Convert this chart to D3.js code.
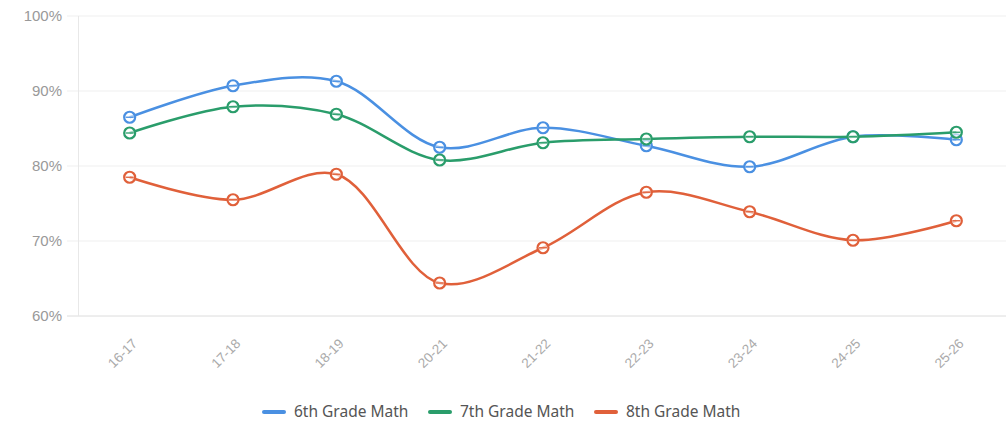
<!DOCTYPE html>
<html><head><meta charset="utf-8">
<script src="https://cdn.jsdelivr.net/npm/d3@7/dist/d3.min.js"></script>
<style>body{margin:0;background:#fff;font-family:"Noto Sans",Lato,sans-serif}</style>
</head><body><svg id="c" width="1006" height="426"></svg>
<script>
const categories = ["16-17","17-18","18-19","20-21","21-22","22-23","23-24","24-25","25-26"];
const grade6 = [86.5,90.7,91.3,82.5,85.1,82.7,79.9,83.9,83.5];
const grade7 = [84.4,87.9,86.9,80.8,83.1,83.6,83.9,83.9,84.5];
const grade8 = [78.5,75.5,78.9,64.4,69.1,76.5,73.9,70.1,72.7];
const seriesNames = ["6th Grade Math","7th Grade Math","8th Grade Math"];
const yTicks = [60,70,80,90,100];
const colors = ["#4a90e2","#2a9d6b","#e0603a"];
const series = [grade6, grade7, grade8];

const svg = d3.select("#c");
const x = d3.scaleBand().domain(categories).range([78,1008]);
const y = d3.scaleLinear().domain([60,100]).range([316,16]);

// grid
svg.append("g").selectAll("line").data(yTicks).join("line")
  .attr("x1",67).attr("x2",1006).attr("y1",d=>y(d)).attr("y2",d=>y(d))
  .attr("stroke",d=>d===60?"#dcdcdc":"#efefef").attr("stroke-width",1);
svg.append("line").attr("x1",78.5).attr("x2",78.5).attr("y1",16).attr("y2",316).attr("stroke","#e8e8e8");

svg.append("g").selectAll("text").data(yTicks).join("text")
  .attr("x",62).attr("y",d=>y(d)).attr("dy","0.35em").attr("text-anchor","end")
  .attr("font-family","'Liberation Sans',Arial,sans-serif")
  .attr("font-size",15).attr("fill","#999").text(d=>d+"%");

svg.append("g").selectAll("text").data(categories).join("text")
  .attr("transform",d=>`translate(${x(d)+x.bandwidth()/2+5},${341}) rotate(-45)`)
  .attr("text-anchor","end").attr("dy","0.35em")
  .attr("font-family","'Liberation Sans',Arial,sans-serif")
  .attr("font-size",13.5).attr("fill","#aaa").text(d=>d);

const line = d3.line().x((d,i)=>x(categories[i])+x.bandwidth()/2).y(d=>y(d)).curve(d3.curveCatmullRom.alpha(0.5));

series.forEach((s,k)=>{
  svg.append("path").attr("d",line(s)).attr("fill","none").attr("stroke",colors[k]).attr("stroke-width",2.5);
  const g = svg.append("g");
  s.forEach((v,i)=>{
    const cx = x(categories[i])+x.bandwidth()/2, cy = y(v);
    g.append("circle").attr("cx",cx).attr("cy",cy).attr("r",5.5).attr("fill","#fff").attr("fill-opacity",0.6).attr("stroke",colors[k]).attr("stroke-width",2.2);
    g.append("line").attr("x1",cx-4).attr("x2",cx+4).attr("y1",cy).attr("y2",cy).attr("stroke",colors[k]).attr("stroke-width",1.3);
  });
});

// legend
const legX = [262,428,594];
seriesNames.forEach((n,k)=>{
  svg.append("line").attr("x1",legX[k]+2).attr("x2",legX[k]+22).attr("y1",412).attr("y2",412)
    .attr("stroke",colors[k]).attr("stroke-width",4).attr("stroke-linecap","round");
  svg.append("text").attr("x",legX[k]+32).attr("y",412).attr("dy","0.35em")
    .attr("font-size",15.5).attr("fill","#555").text(n);
});
</script></body></html>
